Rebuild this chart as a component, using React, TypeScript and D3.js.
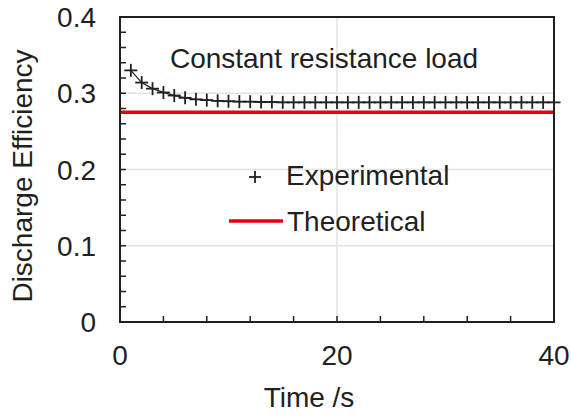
import React from "react";
import * as d3 from "d3";

const timeSeconds = [1,2,3,4,5,6,7,8,9,10,11,12,13,14,15,16,17,18,19,20,21,22,23,24,25,26,27,28,29,30,31,32,33,34,35,36,37,38,39,40];
const experimental = [0.330,0.314,0.306,0.301,0.297,0.294,0.292,0.291,0.290,0.2895,0.289,0.289,0.2885,0.2885,0.288,0.288,0.288,0.288,0.288,0.288,0.288,0.288,0.288,0.288,0.288,0.288,0.288,0.288,0.288,0.288,0.288,0.288,0.288,0.288,0.288,0.288,0.288,0.288,0.288,0.288];
const theoretical = 0.275;
const xTicks = [0, 20, 40];
const yTicks = [0, 0.1, 0.2, 0.3, 0.4];
const yTickLabels = ["0", "0.1", "0.2", "0.3", "0.4"];
const xMinorTicks = [4, 8, 12, 16, 24, 28, 32, 36];
const yMinorTicks = d3.range(0, 0.4001, 0.02);

const W = 571, H = 416;
const M = { left: 120, right: 554, top: 17, bottom: 322 };
const FONT = "'Liberation Sans', Arial, sans-serif";
const INK = "#231f20";

export default function App() {
  const x = d3.scaleLinear().domain([0, 40]).range([M.left, M.right]);
  const y = d3.scaleLinear().domain([0, 0.4]).range([M.bottom, M.top]);
  const pts = timeSeconds.map((t, i) => [t, experimental[i]] as [number, number]);
  const line = d3.line<[number, number]>().x(d => x(d[0])).y(d => y(d[1]));
  const fs = 28;
  const arm = 6.5;
  return (
    <svg width={W} height={H} style={{ position: "absolute", left: 0, top: 0, background: "#fff" }} fontFamily={FONT}>
      {yTicks.slice(1, 4).map(v => (
        <line key={"gy" + v} x1={M.left} x2={M.right} y1={y(v)} y2={y(v)} stroke="#e3e3e3" strokeWidth={1.5} />
      ))}
      <line x1={x(20)} x2={x(20)} y1={M.top} y2={M.bottom} stroke="#e3e3e3" strokeWidth={1.5} />
      {yMinorTicks.map(v => (
        <line key={"my" + v} x1={M.left} x2={M.left + 6} y1={y(v)} y2={y(v)} stroke={INK} strokeWidth={1.5} />
      ))}
      {xMinorTicks.concat([20]).map(v => (
        <line key={"mx" + v} x1={x(v)} x2={x(v)} y1={M.bottom} y2={M.bottom - 6} stroke={INK} strokeWidth={1.5} />
      ))}
      <line x1={x(0)} x2={x(40)} y1={y(theoretical)} y2={y(theoretical)} stroke="#e60012" strokeWidth={3.5} />
      <path d={line(pts) || ""} fill="none" stroke={INK} strokeWidth={1.3} />
      {pts.map(([t, v]) => (
        <g key={"p" + t} stroke={INK} strokeWidth={1.8}>
          <line x1={x(t) - arm} x2={x(t) + arm} y1={y(v)} y2={y(v)} />
          <line x1={x(t)} x2={x(t)} y1={y(v) - arm} y2={y(v) + arm} />
        </g>
      ))}
      <rect x={M.left} y={M.top} width={M.right - M.left} height={M.bottom - M.top} fill="none" stroke={INK} strokeWidth={2} />
      {yTicks.map((v, i) => (
        <text key={"yl" + v} x={96} y={y(v) + 10} textAnchor="end" fontSize={fs} fill={INK}>{yTickLabels[i]}</text>
      ))}
      {xTicks.map(v => (
        <text key={"xl" + v} x={x(v)} y={365} textAnchor="middle" fontSize={fs} fill={INK}>{v}</text>
      ))}
      <text x={309} y={407} textAnchor="middle" fontSize={fs} fill={INK}>Time /s</text>
      <text transform={`translate(32,${176}) rotate(-90)`} textAnchor="middle" fontSize={fs} fill={INK}>Discharge Efficiency</text>
      <text x={324} y={68} textAnchor="middle" fontSize={fs} fill={INK}>Constant resistance load</text>
      <g stroke={INK} strokeWidth={1.8}>
        <line x1={249} x2={261} y1={177} y2={177} />
        <line x1={255} x2={255} y1={171} y2={183} />
      </g>
      <text x={286} y={185} fontSize={fs} fill={INK}>Experimental</text>
      <line x1={229} x2={283} y1={221} y2={221} stroke="#e60012" strokeWidth={3.5} />
      <text x={287} y={231} fontSize={fs} fill={INK}>Theoretical</text>
    </svg>
  );
}
